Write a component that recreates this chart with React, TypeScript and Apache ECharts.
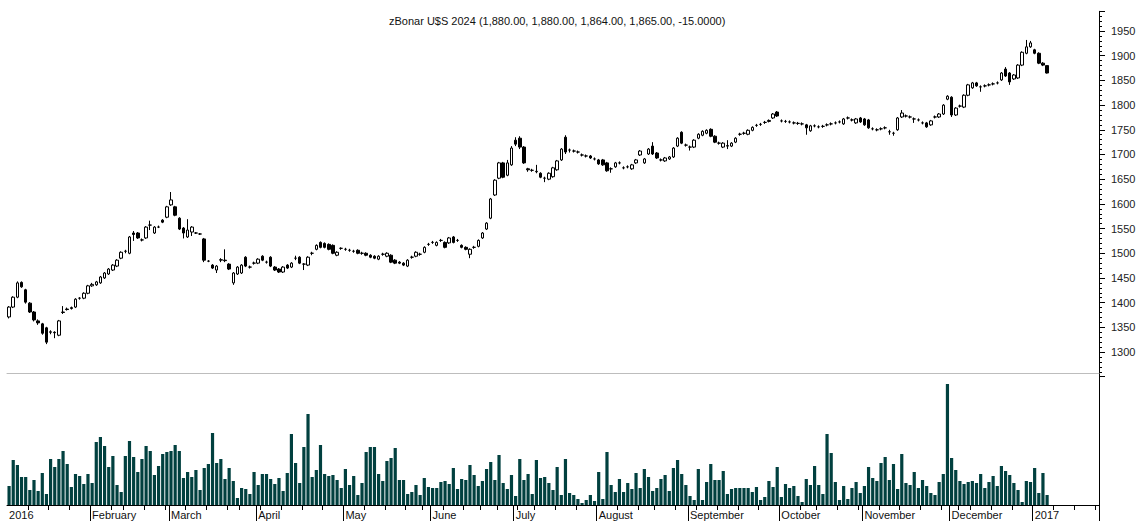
import React, { useEffect, useRef } from 'react';
import * as echarts from 'echarts';

const TITLE = 'zBonar U$S 2024 (1,880.00, 1,880.00, 1,864.00, 1,865.00, -15.0000)';
const FIRST_DAY = '2016-01-04';
const LAST_DAY = '2017-01-23';
const HOLIDAYS = [
  '2016-01-01', '2016-02-08', '2016-02-09', '2016-03-24', '2016-03-25', '2016-05-25',
  '2016-06-17', '2016-06-20', '2016-07-08', '2016-08-15', '2016-10-10', '2016-11-28',
  '2016-12-08', '2016-12-09',
];
const MONTH_NAMES = ['January', 'February', 'March', 'April', 'May', 'June', 'July', 'August', 'September', 'October', 'November', 'December'];

// [open, high, low, close]
const jan2016 = [
  [1371, 1393, 1368, 1391], [1391, 1413, 1389, 1411], [1411, 1443, 1409, 1440], [1441, 1443, 1430, 1432],
  [1426, 1428, 1398, 1401], [1399, 1401, 1379, 1381], [1381, 1383, 1362, 1365], [1363, 1366, 1355, 1359],
  [1357, 1359, 1335, 1338], [1349, 1351, 1316, 1320], [1340, 1344, 1336, 1341], [1340, 1342, 1328, 1339],
  [1334, 1365, 1332, 1363], [1380, 1393, 1377, 1381], [1387, 1390, 1384, 1386], [1388, 1392, 1386, 1390],
  [1391, 1409, 1389, 1407], [1409, 1411, 1406, 1409], [1409, 1421, 1407, 1419], [1419, 1436, 1417, 1434],
];
const feb2016 = [
  [1434, 1440, 1432, 1437], [1436, 1444, 1434, 1442], [1440, 1454, 1438, 1452], [1450, 1462, 1448, 1460],
  [1458, 1470, 1456, 1468], [1466, 1478, 1464, 1476], [1474, 1488, 1472, 1486], [1490, 1504, 1488, 1502],
  [1504, 1507, 1500, 1504], [1500, 1535, 1498, 1533], [1541, 1545, 1525, 1538], [1541, 1543, 1529, 1531],
  [1527, 1530, 1524, 1527], [1531, 1555, 1529, 1553], [1557, 1566, 1547, 1557], [1541, 1555, 1539, 1553],
  [1553, 1556, 1551, 1553], [1567, 1569, 1561, 1563], [1573, 1596, 1571, 1594],
];
const mar2016 = [
  [1598, 1624, 1596, 1608], [1594, 1596, 1575, 1577], [1571, 1573, 1547, 1549], [1551, 1553, 1530, 1541],
  [1533, 1569, 1531, 1547], [1543, 1555, 1535, 1553], [1541, 1543, 1539, 1541], [1539, 1541, 1537, 1539],
  [1529, 1531, 1482, 1486], [1484, 1486, 1482, 1484], [1476, 1478, 1468, 1470], [1466, 1476, 1460, 1474],
  [1486, 1490, 1482, 1487], [1486, 1508, 1482, 1485], [1478, 1480, 1466, 1468], [1440, 1462, 1436, 1460],
  [1458, 1474, 1456, 1472], [1460, 1478, 1458, 1476], [1492, 1494, 1472, 1474], [1472, 1475, 1469, 1472],
  [1480, 1483, 1477, 1480],
];
const apr2016 = [
  [1480, 1490, 1478, 1488], [1494, 1496, 1484, 1486], [1482, 1485, 1479, 1482], [1492, 1494, 1472, 1474],
  [1472, 1474, 1464, 1466], [1468, 1470, 1460, 1462], [1462, 1474, 1460, 1472], [1476, 1478, 1468, 1470],
  [1472, 1482, 1470, 1480], [1490, 1495, 1486, 1490], [1492, 1494, 1478, 1480], [1478, 1480, 1466, 1478],
  [1476, 1494, 1474, 1492], [1500, 1503, 1496, 1500], [1508, 1518, 1506, 1516], [1522, 1524, 1510, 1512],
  [1520, 1522, 1510, 1512], [1518, 1520, 1506, 1508], [1516, 1518, 1498, 1500], [1496, 1504, 1494, 1502],
  [1510, 1512, 1507, 1510],
];
const may2016 = [
  [1508, 1511, 1505, 1508], [1506, 1509, 1503, 1506], [1504, 1507, 1501, 1504], [1506, 1508, 1498, 1500],
  [1500, 1503, 1497, 1500], [1500, 1502, 1494, 1496], [1496, 1498, 1490, 1492], [1494, 1496, 1488, 1490],
  [1488, 1496, 1486, 1494], [1498, 1501, 1495, 1498], [1494, 1502, 1492, 1500], [1496, 1498, 1480, 1482],
  [1486, 1488, 1478, 1480], [1482, 1484, 1478, 1480], [1480, 1482, 1474, 1476], [1474, 1488, 1472, 1486],
  [1492, 1495, 1489, 1492], [1494, 1504, 1492, 1502], [1498, 1501, 1495, 1498], [1502, 1514, 1500, 1512],
  [1518, 1521, 1515, 1518],
];
const jun2016 = [
  [1522, 1525, 1519, 1522], [1516, 1524, 1514, 1522], [1526, 1529, 1523, 1526], [1522, 1524, 1510, 1512],
  [1521, 1533, 1519, 1531], [1533, 1535, 1520, 1522], [1526, 1529, 1523, 1526], [1516, 1518, 1510, 1512],
  [1512, 1514, 1506, 1508], [1498, 1510, 1490, 1508], [1512, 1515, 1509, 1512], [1514, 1528, 1512, 1526],
  [1531, 1543, 1529, 1541], [1549, 1563, 1547, 1561], [1571, 1612, 1569, 1610], [1618, 1650, 1616, 1648],
  [1652, 1685, 1650, 1683], [1683, 1685, 1652, 1654], [1658, 1689, 1656, 1683], [1679, 1717, 1677, 1713],
];
const jul2016 = [
  [1729, 1735, 1717, 1721], [1733, 1737, 1711, 1715], [1715, 1717, 1681, 1683], [1671, 1673, 1665, 1669],
  [1668, 1671, 1665, 1668], [1665, 1679, 1662, 1666], [1662, 1664, 1652, 1654], [1652, 1655, 1644, 1652],
  [1650, 1664, 1648, 1662], [1655, 1675, 1653, 1673], [1669, 1689, 1667, 1687], [1689, 1713, 1687, 1711],
  [1735, 1739, 1701, 1705], [1709, 1712, 1704, 1709], [1707, 1710, 1704, 1707], [1705, 1708, 1702, 1705],
  [1699, 1702, 1696, 1699], [1697, 1700, 1694, 1697], [1697, 1699, 1691, 1693], [1691, 1694, 1688, 1691],
];
const aug2016 = [
  [1689, 1691, 1679, 1681], [1689, 1691, 1677, 1679], [1683, 1685, 1665, 1667], [1671, 1674, 1663, 1671],
  [1675, 1685, 1673, 1683], [1683, 1686, 1680, 1683], [1673, 1676, 1670, 1673], [1675, 1678, 1672, 1675],
  [1671, 1681, 1669, 1679], [1683, 1691, 1681, 1689], [1699, 1709, 1697, 1707], [1683, 1693, 1681, 1691],
  [1701, 1713, 1699, 1711], [1717, 1725, 1699, 1701], [1703, 1705, 1691, 1693], [1689, 1692, 1686, 1689],
  [1687, 1695, 1685, 1693], [1691, 1697, 1689, 1695], [1695, 1715, 1693, 1713], [1717, 1735, 1715, 1733],
  [1745, 1747, 1721, 1723], [1719, 1722, 1716, 1719],
];
const sep2016 = [
  [1715, 1718, 1708, 1715], [1715, 1731, 1713, 1729], [1733, 1743, 1731, 1741], [1739, 1749, 1737, 1747],
  [1743, 1751, 1741, 1749], [1751, 1753, 1735, 1737], [1737, 1739, 1723, 1725], [1723, 1726, 1720, 1723],
  [1715, 1725, 1713, 1723], [1717, 1729, 1711, 1718], [1717, 1725, 1715, 1723], [1725, 1735, 1723, 1733],
  [1741, 1744, 1738, 1741], [1743, 1746, 1740, 1743], [1741, 1751, 1739, 1749], [1749, 1757, 1747, 1755],
  [1759, 1762, 1756, 1759], [1761, 1764, 1758, 1761], [1765, 1768, 1762, 1765], [1767, 1771, 1765, 1769],
  [1774, 1784, 1772, 1782], [1786, 1788, 1776, 1778],
];
const oct2016 = [
  [1768, 1771, 1765, 1768], [1767, 1770, 1764, 1767], [1766, 1769, 1763, 1766], [1764, 1767, 1761, 1764],
  [1763, 1766, 1760, 1763], [1762, 1765, 1759, 1762], [1760, 1762, 1740, 1754], [1748, 1760, 1746, 1758],
  [1758, 1761, 1755, 1758], [1756, 1759, 1753, 1756], [1757, 1760, 1754, 1757], [1760, 1763, 1757, 1760],
  [1762, 1765, 1759, 1762], [1764, 1767, 1761, 1764], [1766, 1769, 1763, 1766], [1762, 1774, 1760, 1772],
  [1774, 1777, 1771, 1774], [1770, 1773, 1767, 1770], [1764, 1774, 1762, 1772], [1774, 1776, 1764, 1766],
];
const nov2016 = [
  [1772, 1774, 1758, 1760], [1770, 1772, 1752, 1754], [1752, 1755, 1749, 1752], [1750, 1753, 1747, 1750],
  [1752, 1755, 1749, 1752], [1754, 1757, 1751, 1754], [1746, 1750, 1740, 1746], [1743, 1746, 1738, 1743],
  [1750, 1776, 1748, 1774], [1776, 1790, 1774, 1784], [1778, 1781, 1775, 1778], [1776, 1779, 1773, 1776],
  [1772, 1775, 1764, 1772], [1770, 1773, 1767, 1770], [1764, 1767, 1761, 1764], [1764, 1766, 1754, 1756],
  [1760, 1770, 1758, 1768], [1776, 1779, 1773, 1776], [1776, 1784, 1774, 1782], [1782, 1802, 1780, 1800],
  [1812, 1820, 1810, 1818],
];
const dec2016 = [
  [1816, 1818, 1776, 1780], [1780, 1796, 1778, 1794], [1798, 1801, 1795, 1798], [1796, 1822, 1794, 1820],
  [1820, 1843, 1818, 1841], [1835, 1847, 1833, 1845], [1845, 1847, 1837, 1839], [1837, 1840, 1827, 1837],
  [1839, 1842, 1836, 1839], [1841, 1844, 1838, 1841], [1843, 1846, 1840, 1843], [1845, 1848, 1842, 1845],
  [1851, 1867, 1849, 1865], [1873, 1877, 1857, 1859], [1865, 1867, 1841, 1847], [1853, 1863, 1851, 1861],
  [1855, 1883, 1853, 1881], [1881, 1909, 1879, 1907], [1905, 1932, 1903, 1918], [1918, 1930, 1916, 1926],
];
const jan2017 = [
  [1912, 1914, 1903, 1905], [1905, 1907, 1883, 1885], [1885, 1887, 1879, 1881], [1880, 1880, 1864, 1865],
];

const volumes = [
  19, 45, 40, 28, 28, 15, 25, 14, 32, 11, 46, 38, 46, 54, 41, 18, 31, 29, 21, 31,
  22, 63, 68, 59, 38, 49, 20, 13, 49, 64, 48, 33, 46, 59, 54, 30, 39, 51, 53, 54,
  60, 54, 27, 33, 28, 35, 15, 37, 41, 72, 42, 46, 26, 37, 24, 7, 17, 16, 11, 33,
  20, 31, 31, 26, 21, 27, 14, 32, 71, 42, 22, 58, 91, 28, 35, 60, 31, 29, 30, 25,
  17, 36, 20, 29, 10, 22, 53, 58, 58,
  31, 24, 44, 47, 57, 25, 25, 11, 13, 20, 10, 27, 18, 17, 17, 23, 24, 21, 37, 16,
  26, 25, 40, 30, 19, 24, 36, 43, 25, 50, 22, 16, 30, 9, 46, 25, 31, 11, 45, 27,
  28, 22, 15, 38, 10, 46, 12, 10, 6, 2, 5, 10, 4, 33, 6, 53, 20, 13, 26, 13,
  22, 16, 32, 17, 36, 28, 14, 17, 26, 30, 14, 37, 45, 31, 20, 9, 5, 36, 5, 23,
  41, 25, 25, 34, 11, 16, 17, 17, 17,
  17, 13, 18, 5, 8, 24, 18, 38, 8, 21, 17, 19, 9, 3, 26, 20, 39, 20, 11, 71,
  52, 23, 5, 19, 6, 17, 23, 12, 19, 38, 27, 24, 42, 48, 25, 41, 16, 51, 22, 20,
  33, 17, 25, 19, 12, 10, 23, 31, 121, 47, 35, 24, 21, 23, 24, 22, 31, 17, 23, 29,
  19, 39, 34, 30, 22, 15, 3, 24, 23, 37, 12, 32, 10,
];
const VOLUME_MAX = 132;

const prices = [
  ...jan2016, ...feb2016, ...mar2016, ...apr2016, ...may2016, ...jun2016,
  ...jul2016, ...aug2016, ...sep2016, ...oct2016, ...nov2016, ...dec2016, ...jan2017,
];

function isoDate(d: Date) {
  return d.toISOString().slice(0, 10);
}

function tradingDays(): string[] {
  const out: string[] = [];
  const d = new Date(FIRST_DAY + 'T00:00:00Z');
  const end = new Date(LAST_DAY + 'T00:00:00Z');
  while (d.getTime() <= end.getTime()) {
    const dow = d.getUTCDay();
    const s = isoDate(d);
    if (dow !== 0 && dow !== 6 && HOLIDAYS.indexOf(s) < 0) out.push(s);
    d.setUTCDate(d.getUTCDate() + 1);
  }
  return out;
}

const FONT = "'Liberation Sans', Arial, Helvetica, sans-serif";

export default function App() {
  const ref = useRef<HTMLDivElement>(null);
  useEffect(() => {
    document.body.style.margin = '0';
    if (!ref.current) return;
    const days = tradingDays();
    const dt = days.map((s) => new Date(s + 'T00:00:00Z'));
    const monthStart = days.map((s, i) => i === 0 || dt[i].getUTCMonth() !== dt[i - 1].getUTCMonth());
    const weekStart = days.map((s, i) => {
      if (i === 0) return false;
      const gap = (dt[i].getTime() - dt[i - 1].getTime()) / 86400000;
      return dt[i].getUTCDay() <= dt[i - 1].getUTCDay() || gap >= 7;
    });
    const chart = echarts.init(ref.current, null, { renderer: 'svg' });
    chart.setOption({
      animation: false,
      backgroundColor: '#ffffff',
      title: {
        text: TITLE,
        left: 389,
        top: 15,
        padding: 0,
        textStyle: { fontSize: 11, fontWeight: 'normal', color: '#111', fontFamily: FONT },
      },
      grid: [
        { left: 7, right: 37, top: 11.3, height: 365.4, outerBoundsMode: 'none', containLabel: false },
        { left: 7, right: 37, top: 373, height: 132, outerBoundsMode: 'none', containLabel: false },
      ],
      xAxis: [
        { type: 'category', gridIndex: 0, data: days, show: false, boundaryGap: true },
        {
          type: 'category', gridIndex: 1, data: days, position: 'bottom', boundaryGap: true,
          axisLine: { show: true, lineStyle: { color: '#000', width: 1 } },
          axisTick: { show: true, length: 5, interval: (i: number) => weekStart[i], lineStyle: { color: '#000' } },
          axisLabel: { show: false },
          splitLine: { show: false },
        },
        {
          type: 'category', gridIndex: 1, data: days, position: 'bottom', boundaryGap: true,
          axisLine: { show: false },
          axisTick: { show: true, length: 16, interval: (i: number) => i > 0 && monthStart[i], lineStyle: { color: '#000' } },
          axisLabel: {
            show: true,
            interval: (i: number) => monthStart[i],
            formatter: (v: string) => {
              const m = parseInt(v.slice(5, 7), 10) - 1;
              return m === 0 ? v.slice(0, 4) : MONTH_NAMES[m];
            },
            align: 'left',
            margin: 4,
            fontSize: 11,
            color: '#111',
            fontFamily: FONT,
          },
          splitLine: { show: false },
        },
        {
          type: 'category', gridIndex: 1, data: days, position: 'top', boundaryGap: true,
          axisLine: { show: true, lineStyle: { color: '#bdbdbd', width: 1 } },
          axisTick: { show: false },
          axisLabel: { show: false },
        },
      ],
      yAxis: [
        {
          type: 'value', gridIndex: 0, position: 'right', min: 1250, max: 1990, interval: 50,
          axisLine: { show: true, lineStyle: { color: '#000', width: 1 } },
          axisTick: { show: true, length: 6, lineStyle: { color: '#000' } },
          minorTick: { show: true, splitNumber: 5, length: 3, lineStyle: { color: '#000' } },
          axisLabel: {
            formatter: (v: number) => (v >= 1300 && v <= 1950 && v % 50 === 0 ? String(v) : ''),
            margin: 12,
            fontSize: 11,
            color: '#222',
            fontFamily: FONT,
          },
          splitLine: { show: false },
        },
        {
          type: 'value', gridIndex: 1, position: 'right', min: 0, max: VOLUME_MAX,
          axisLine: { show: true, lineStyle: { color: '#000', width: 1 } },
          axisTick: { show: false },
          axisLabel: { show: false },
          splitLine: { show: false },
        },
      ],
      series: [
        {
          type: 'candlestick',
          xAxisIndex: 0,
          yAxisIndex: 0,
          barWidth: 3,
          data: prices.map(([o, h, l, c]) => [o, c, l, h]),
          itemStyle: { color: '#ffffff', color0: '#000000', borderColor: '#000000', borderColor0: '#000000', borderWidth: 1 },
        },
        {
          type: 'bar',
          xAxisIndex: 1,
          yAxisIndex: 1,
          barWidth: 3.2,
          data: volumes,
          itemStyle: { color: '#01403f' },
        },
      ],
    });
    return () => chart.dispose();
  }, []);
  return <div ref={ref} style={{ width: 1136, height: 521 }} />;
}
